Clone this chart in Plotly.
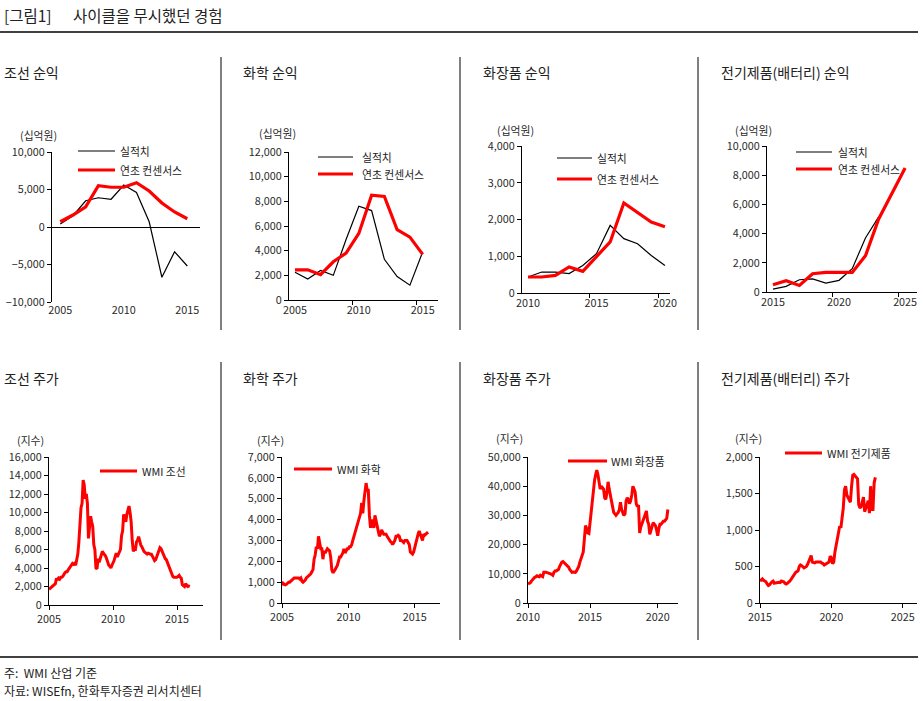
import plotly.graph_objects as go

W, H = 923, 701
FONT = "Noto Sans CJK KR"

# ---------------- DATA ----------------
# Top row: net profit (십억원), yearly
ship_years = list(range(2005, 2016))
ship_actual = [400, 1500, 3500, 3900, 3700, 5600, 4600, 700, -6700, -3300, -5200]
ship_cons = [700, 1600, 2700, 5500, 5300, 5300, 5900, 4800, 3200, 2000, 1100]

chem_years = list(range(2005, 2016))
chem_actual = [2250, 1700, 2400, 2000, 4900, 7600, 7250, 3300, 1900, 1200, 3900]
chem_cons = [2450, 2450, 2050, 3100, 3800, 5400, 8500, 8400, 5700, 5100, 3700]

cos_years = list(range(2010, 2021))
cos_actual = [435, 570, 570, 530, 750, 1070, 1840, 1480, 1340, 1020, 750]
cos_cons = [435, 435, 480, 710, 590, 980, 1390, 2450, 2200, 1930, 1800]

elec_years_act = list(range(2015, 2024))
elec_actual = [200, 390, 840, 900, 615, 800, 1600, 3700, 5150]
elec_years_cons = list(range(2015, 2026))
elec_cons = [500, 770, 450, 1250, 1340, 1340, 1340, 2480, 5000, 6750, 8500]

# Bottom row: WMI industry index (지수), monthly
ship_idx_start = 2005.0
ship_idx = [
    1700, 1800, 1900, 2000, 2000, 2100, 2300, 2900, 2700, 2900, 2800, 3000,
    3000, 3100, 3400, 3500, 3600, 3600, 3800, 4000, 4200, 4300, 4500, 4400,
    4500, 4300, 4800, 5500, 6800, 8800, 10500, 11000, 13500, 13000, 11500, 12000,
    11000, 7200, 9000, 9600, 9000, 8500, 6500, 6000, 4000, 3900, 5000, 4600,
    5000, 5500, 5800, 5600, 5500, 5300, 5000, 4500, 4300, 4200, 4000, 4300,
    4500, 4800, 5200, 5600, 5200, 5500, 5800, 6000, 7500, 8000, 9800, 9200,
    9000, 9800, 10200, 10700, 10000, 9000, 7000, 5800, 6000, 6000, 6800, 7000,
    7400, 6800, 6500, 6300, 6000, 5800, 5700, 5600, 5500, 5600, 5500, 5500,
    5500, 5200, 5000, 4800, 4900, 5200, 5700, 6000, 6200, 6100, 5800, 5500,
    5200, 5000, 4900, 4600, 4400, 4000, 3700, 3300, 3100, 3000, 3000, 3000,
    3000, 3100, 3200, 3000, 2900, 2200, 2100, 2000, 2300, 2100, 2000, 2050,
    2000,
]

chem_idx_start = 2005.0
chem_idx = [
    850, 950, 900, 870, 900, 950, 1000, 1000, 1050, 1100, 1150, 1200,
    1200, 1200, 1200, 1200, 1150, 1200, 1050, 1000, 1050, 1100, 1200, 1250,
    1300, 1350, 1400, 1500, 1600, 2100, 2300, 2700, 2600, 3200, 2800, 2600,
    2600, 2100, 2500, 2400, 2500, 2600, 2550, 2500, 2200, 1600, 1450, 1500,
    1600, 1700, 1800, 2000, 2200, 2200, 2300, 2400, 2600, 2400, 2500, 2600,
    2600, 2700, 2700, 2800, 3000, 3200, 3400, 3600, 3800, 4000, 4100, 4300,
    4800, 4300, 4900, 5500, 5750, 5400, 5400, 4200, 3600, 4000, 3700, 3600,
    4200, 3900, 3700, 3300, 3200, 3300, 3500, 3400, 3300, 3300, 3300, 3200,
    3100, 3000, 2950, 2900, 2800, 2900, 3000, 3200, 3200, 3250, 3200, 3000,
    3000, 2950, 2900, 3000, 3000, 3000, 2900, 2800, 2450, 2400, 2350, 2450,
    2700, 2900, 3100, 3300, 3450, 3300, 3100, 3000, 3300, 3250, 3300, 3350,
    3400,
]

cos_idx_start = 2010 + 5 / 12  # June 2010
cos_idx = [
    6500, 6600, 6900, 7500, 8000, 8300, 8800,
    9000, 9300, 9100, 9000, 9500, 9200, 9000, 10500, 10600, 10500, 10400, 10300,
    10300, 10000, 9800, 9500, 10500, 11000, 11000, 11200, 11500, 12500, 13500, 14000,
    14200, 13800, 13500, 12800, 12500, 12300, 11500, 11000, 10500, 10600, 10500, 10500,
    11000, 11800, 12500, 14000, 15500, 16500, 17500, 22000, 26500, 25500, 24000, 23800,
    28000, 31000, 35000, 38000, 42000, 44000, 45500, 44000, 40500, 39000, 40000, 39500,
    39000, 36000, 35500, 38000, 41500, 39000, 37000, 35000, 33000, 31000, 30500, 30000,
    30500, 31000, 32000, 34500, 32000, 31000, 30000, 30500, 35000, 36000, 35500, 34000,
    35000, 37000, 40000, 39000, 38000, 34000, 33000, 33500, 24000, 26000, 27000, 28000,
    29000, 30000, 31500, 28000, 27000, 23500, 25000, 26500, 27500, 27000, 26500, 25000,
    23000, 25500, 27000, 27000, 27500, 28000, 28000, 28500, 29000, 32000,
]

elec_idx_start = 2015.0
elec_idx = [
    300, 320, 330, 310, 300, 290, 260, 240, 250, 280, 290, 300,
    270, 275, 280, 290, 285, 280, 300, 295, 290, 270, 260, 270,
    280, 300, 320, 350, 380, 400, 420, 430, 440, 500, 520, 510,
    500, 480, 490, 500, 530, 570, 600, 650, 560, 550, 550, 560,
    560, 550, 555, 560, 545, 540, 520, 530, 550, 555, 560, 640,
    620, 540, 560, 700, 800, 850, 1000, 1050, 1030, 1150, 1300, 1550,
    1600, 1480, 1450, 1420, 1380, 1600, 1750, 1760, 1740, 1720, 1700, 1350,
    1300, 1320, 1400, 1450, 1250, 1300, 1350, 1400, 1230, 1600, 1280, 1280,
    1650, 1720,
]

top_titles = ["조선 순익", "화학 순익", "화장품 순익", "전기제품(배터리) 순익"]
bot_titles = ["조선 주가", "화학 주가", "화장품 주가", "전기제품(배터리) 주가"]
legend_actual = "실적치"
legend_cons = "연초 컨센서스"
bot_legends = ["WMI 조선", "WMI 화학", "WMI 화장품", "WMI 전기제품"]


def monthly_x(start, n):
    return [start + i / 12 for i in range(n)]


def px(x):
    return x / W


def py(y):
    return 1 - y / H


BLACK = "#000000"
RED = "#FF0000"

fig = go.Figure()

# ---- top traces ----
top_sets = [
    (ship_years, ship_actual, ship_years, ship_cons),
    (chem_years, chem_actual, chem_years, chem_cons),
    (cos_years, cos_actual, cos_years, cos_cons),
    (elec_years_act, elec_actual, elec_years_cons, elec_cons),
]
for i, (xa, ya, xc, yc) in enumerate(top_sets):
    n = i + 1
    xa_ref = "x" if n == 1 else f"x{n}"
    ya_ref = "y" if n == 1 else f"y{n}"
    fig.add_trace(go.Scatter(x=xa, y=ya, mode="lines", xaxis=xa_ref, yaxis=ya_ref,
                             line=dict(color=BLACK, width=1.2), showlegend=False,
                             hoverinfo="skip"))
    fig.add_trace(go.Scatter(x=xc, y=yc, mode="lines", xaxis=xa_ref, yaxis=ya_ref,
                             line=dict(color=RED, width=3.2), showlegend=False,
                             hoverinfo="skip"))

bot_sets = [
    (ship_idx_start, ship_idx),
    (chem_idx_start, chem_idx),
    (cos_idx_start, cos_idx),
    (elec_idx_start, elec_idx),
]
for i, (st, vals) in enumerate(bot_sets):
    n = i + 5
    fig.add_trace(go.Scatter(x=monthly_x(st, len(vals)), y=vals, mode="lines",
                             xaxis=f"x{n}", yaxis=f"y{n}",
                             line=dict(color=RED, width=3), showlegend=False,
                             hoverinfo="skip"))

# ---- axes layout (pixel boxes) ----
# (left, right, top, bottom), x range, y range, y dtick, x tickvals
panels = [
    ((52, 200, 152, 302), [2004.35, 2016.0], [-10000, 10000], 5000, [2005, 2010, 2015]),
    ((289, 438, 152, 300), [2004.53, 2016.2], [0, 12000], 2000, [2005, 2010, 2015]),
    ((522, 670, 146, 293), [2009.56, 2020.37], [0, 4000], 1000, [2010, 2015, 2020]),
    ((767, 917, 146, 292), [2014.55, 2025.9], [0, 10000], 2000, [2015, 2020, 2025]),
    ((49, 203, 457, 605), [2005.0, 2017.03], [0, 16000], 2000, [2005, 2010, 2015]),
    ((282, 440, 457, 603), [2005.0, 2016.9], [0, 7000], 1000, [2005, 2010, 2015]),
    ((528, 678, 457, 603), [cos_idx_start, 2021.5], [0, 50000], 10000, [cos_idx_start, 2015, 2020]),
    ((760, 917, 457, 603), [2015.0, 2026.0], [0, 2000], 500, [2015, 2020, 2025]),
]
tick_texts = [
    ["2005", "2010", "2015"], ["2005", "2010", "2015"], ["2010", "2015", "2020"],
    ["2015", "2020", "2025"], ["2005", "2010", "2015"], ["2005", "2010", "2015"],
    ["2010", "2015", "2020"], ["2015", "2020", "2025"],
]

tickfont = dict(family=FONT, size=10.8, color="#2a2a2a")
layout_axes = {}
for i, ((l, r, t, b), xr, yr, ydt, tv) in enumerate(panels):
    n = i + 1
    xk = "xaxis" if n == 1 else f"xaxis{n}"
    yk = "yaxis" if n == 1 else f"yaxis{n}"
    yanchor = "y" if n == 1 else f"y{n}"
    xanchor = "x" if n == 1 else f"x{n}"
    xa = dict(domain=[px(l), px(r)], range=xr, anchor=yanchor,
              tickmode="array", tickvals=tv, ticktext=tick_texts[i],
              showgrid=False, zeroline=False, tickfont=tickfont,
              linecolor="black", linewidth=1, fixedrange=True, automargin=False)
    if n <= 4:
        xa.update(ticks="", showline=(n != 1))
        if n != 1:
            xa["minor"] = dict(ticks="outside", ticklen=4, tickcolor="black",
                               tick0=tv[0] - 0.5, dtick=5)
    else:
        xa.update(ticks="outside", ticklen=4, tickcolor="black", showline=True)
    ya = dict(domain=[py(b), py(t)], range=yr, anchor=xanchor, dtick=ydt,
              tick0=yr[0], tickformat=",", showgrid=False, showline=True,
              linecolor="black", linewidth=1, ticks="outside", ticklen=4,
              tickcolor="black", tickfont=tickfont, fixedrange=True,
              zeroline=(n == 1), zerolinecolor="black", zerolinewidth=1,
              automargin=False)
    layout_axes[xk] = xa
    layout_axes[yk] = ya

fig.update_layout(**layout_axes)

# ---- shapes & annotations ----
shapes = []
annotations = []


def hline(x0, x1, y, color="black", width=1):
    shapes.append(dict(type="line", xref="paper", yref="paper", x0=px(x0), x1=px(x1),
                       y0=py(y), y1=py(y), line=dict(color=color, width=width)))


def vline(x, y0, y1):
    shapes.append(dict(type="line", xref="paper", yref="paper", x0=px(x), x1=px(x),
                       y0=py(y0), y1=py(y1), line=dict(color="black", width=1)))


def text(x, y, s, size=11, color="#222222", anchor="left"):
    annotations.append(dict(xref="paper", yref="paper", x=px(x), y=py(y), text=s,
                            showarrow=False, xanchor=anchor, yanchor="middle",
                            font=dict(family=FONT, size=size, color=color)))


hline(0, 918, 32, width=1.3)
hline(0, 918, 657, width=1.3)
for xv in (221, 460, 698):
    vline(xv, 57, 330)
    vline(xv, 362, 640)

text(2, 15, "[그림1]", size=15.5)
text(71, 15, "사이클을 무시했던 경험", size=15.5)

for xv, s in zip((2, 241, 481, 719), top_titles):
    text(xv, 72, s, size=14)
for xv, s in zip((2, 241, 481, 719), bot_titles):
    text(xv, 378, s, size=14)

unit_top = [(38, 135), (277, 133), (515, 130), (753, 130)]
for (xv, yv) in unit_top:
    text(xv, yv, "(십억원)", size=10.8, color="#2a2a2a", anchor="center")
unit_bot = [(31, 440), (270, 440), (510, 438), (748, 438)]
for (xv, yv) in unit_bot:
    text(xv, yv, "(지수)", size=10.8, color="#2a2a2a", anchor="center")

# top legends: (line x0, x1, text x, y black, y red)
top_leg = [(78, 115, 118, 151, 170), (318, 353, 360, 157, 174),
           (557, 592, 595, 158, 179), (796, 832, 836, 152, 169)]
for (x0, x1, tx, yb, yr_) in top_leg:
    hline(x0, x1, yb, color=BLACK, width=1.2)
    hline(x0, x1, yr_, color=RED, width=3.2)
    text(tx, yb, legend_actual, size=10.8, color="#222222")
    text(tx, yr_, legend_cons, size=10.8, color="#222222")

bot_leg = [(100, 137, 140, 471), (294, 332, 335, 469),
           (568, 607, 609, 461), (785, 822, 825, 453)]
for (x0, x1, tx, yv), s in zip(bot_leg, bot_legends):
    hline(x0, x1, yv, color=RED, width=3.2)
    text(tx, yv, s, size=10.8, color="#222222")

text(2, 672, "주:  WMI 산업 기준", size=12)
text(2, 690, "자료: WISEfn, 한화투자증권 리서치센터", size=12)

fig.update_layout(width=W, height=H, autosize=False,
                  margin=dict(l=0, r=0, t=0, b=0, autoexpand=False),
                  paper_bgcolor="white", plot_bgcolor="white",
                  font=dict(family=FONT),
                  shapes=shapes, annotations=annotations)

fig.write_html("out.html", config={"displayModeBar": False},
               post_script="document.body.style.margin='0px';"
                           "document.body.style.overflow='hidden';")
